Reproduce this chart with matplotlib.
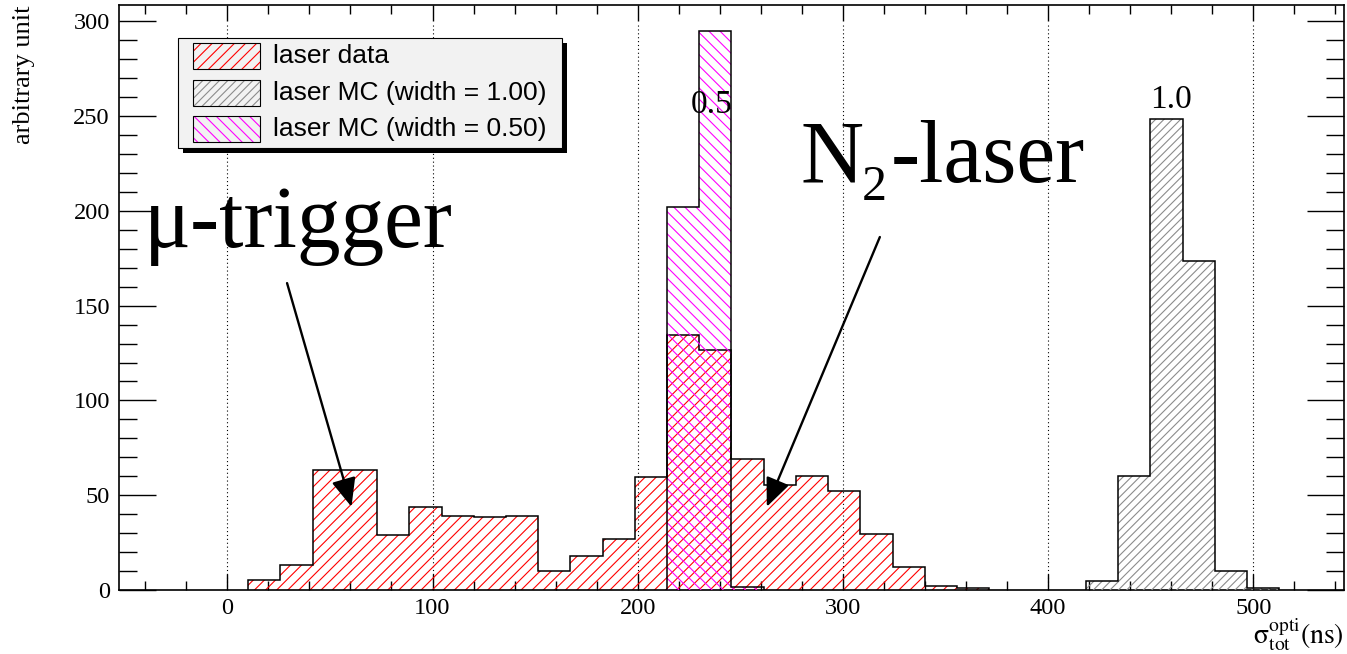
import numpy as np
import matplotlib
matplotlib.use("Agg")
import matplotlib.pyplot as plt
from matplotlib.patches import Rectangle

# ---------------- data ----------------
bin_edges = [10.2, 25.9, 41.6, 57.3, 73.0, 88.7, 104.4, 120.1, 135.8, 151.5,
             167.2, 182.9, 198.6, 214.3, 230.0, 245.7, 261.4, 277.1, 292.8, 308.5,
             324.2, 339.9, 355.6, 371.3, 387.0, 402.7, 418.4, 434.1, 449.8, 465.5,
             481.2, 496.9, 512.6]

# laser data: bins 0..22
data_start = 0
data_counts = [5.3, 13.3, 63.3, 63.3, 29.0, 44.0, 39.0, 38.5, 39.0, 10.0,
               18.1, 26.9, 59.6, 134.5, 126.6, 69.3, 55.6, 60.1, 52.4, 29.5,
               12.1, 2.0, 1.2]

# laser MC (width = 1.00): bins 26..31
mc100_start = 26
mc100_counts = [4.7, 60.1, 248.5, 173.5, 10.0, 1.0]

# laser MC (width = 0.50): bins 13..15
mc050_start = 13
mc050_counts = [202.0, 295.0, 1.5]

legend_labels = ["laser data", "laser MC (width = 1.00)", "laser MC (width = 0.50)"]
series_colors = ["#ff0000", "#8c8c8c", "#ff00ff"]
series_hatch = ["///", "////", "\\\\\\"]

x_major = [0, 100, 200, 300, 400, 500]

# ---------------- figure ----------------
W, H = 1347, 654
plt.rcParams['font.family'] = ['Liberation Serif', 'DejaVu Serif']
plt.rcParams['mathtext.fontset'] = 'stix'
plt.rcParams['hatch.linewidth'] = 0.8

fig = plt.figure(figsize=(W / 100, H / 100), dpi=100)
fig.patch.set_facecolor('white')


def fx(px):
    return px / W


def fy(py):
    return 1 - py / H


ax = fig.add_axes([fx(119), fy(590), (1344 - 119) / W, (590 - 5) / H])
ax.set_xlim(-52.8, 544.2)
ax.set_ylim(0, 308.6)

# grid (vertical dotted lines)
ax.vlines(x_major, 0, 299, colors='black', linestyles=(0, (1, 2.5)), linewidth=0.8, zorder=1)


def draw_hist(start, counts, color, hatch, z):
    edges = bin_edges[start:start + len(counts) + 1]
    ax.stairs(counts, edges, fill=True, facecolor='none', edgecolor=color,
              hatch=hatch, linewidth=0, zorder=z)
    ax.stairs(counts, edges, baseline=0, color='black', linewidth=1.1, zorder=z + 0.5)


draw_hist(data_start, data_counts, series_colors[0], series_hatch[0], 2)
draw_hist(mc100_start, mc100_counts, series_colors[1], series_hatch[1], 3)
draw_hist(mc050_start, mc050_counts, series_colors[2], series_hatch[2], 4)

# ticks
ax.set_xticks(x_major)
ax.set_xticks(np.arange(-40, 541, 20), minor=True)
ax.set_yticks(np.arange(0, 301, 50))
ax.set_yticks(np.arange(0, 301, 10), minor=True)
ax.tick_params(axis='both', which='both', direction='in', top=True, right=True,
               width=1.0, labelsize=17.6)
ax.tick_params(axis='x', which='major', length=11.5, pad=6)
ax.tick_params(axis='x', which='minor', length=6.5)
ax.tick_params(axis='y', which='major', length=26.5, pad=6.5)
ax.tick_params(axis='y', which='minor', length=13)
for s in ax.spines.values():
    s.set_linewidth(1.2)

# axis titles
ax.set_ylabel('arbitrary unit', fontsize=19)
ax.yaxis.label.set(rotation_mode='default', ha='center', va='top')
ax.yaxis.set_label_coords((24 - 119) / (1344 - 119), 1.0)

ax.set_xlabel(r'$\mathrm{\sigma}_{\mathrm{tot}}^{\mathrm{opti}}\mathrm{(ns)}$', fontsize=20)
ax.xaxis.label.set(ha='right', va='baseline')
ax.xaxis.set_label_coords(1.0, (590 - 644) / 585)

# peak labels
ax.text(236.2, 255.8, '0.5', fontsize=24, ha='center', va='center', zorder=6)
ax.text(459.8, 258.5, '1.0', fontsize=24, ha='center', va='center', zorder=6)

# big annotations
ax.text(-40.6, 181.1, 'μ-trigger', fontsize=63, va='baseline', ha='left', zorder=6)
ax.text(279.3, 215.4, 'N', fontsize=63, va='baseline', ha='left', zorder=6)
ax.text(309.2, 205.7, '2', fontsize=36, va='baseline', ha='left', zorder=6)
ax.text(323.4, 215.4, '-laser', fontsize=63, va='baseline', ha='left', zorder=6)

arrow_kw = dict(arrowstyle='-|>,head_length=0.7,head_width=0.3', color='black', lw=1.7,
                mutation_scale=25, shrinkA=0, shrinkB=0)
ax.annotate('', xy=(60.5, 43.9), xytext=(29.1, 161.9), arrowprops=arrow_kw, zorder=6)
ax.annotate('', xy=(262.9, 43.9), xytext=(318.0, 186.2), arrowprops=arrow_kw, zorder=6)

# ---------------- legend (ROOT style box with shadow) ----------------
lx0, lx1, ly0, ly1 = 178.3, 561.7, 38.3, 148.3
fig.add_artist(Rectangle((fx(lx0 + 5), fy(ly1 + 5)), (lx1 - lx0) / W, (ly1 - ly0) / H,
                         transform=fig.transFigure, facecolor='black', edgecolor='none', zorder=10))
fig.add_artist(Rectangle((fx(lx0), fy(ly1)), (lx1 - lx0) / W, (ly1 - ly0) / H,
                         transform=fig.transFigure, facecolor='#f2f2f2', edgecolor='black',
                         linewidth=0.8, zorder=11))
row_y = [56, 93, 129]
for lab, col, hat, cy in zip(legend_labels, series_colors, series_hatch, row_y):
    fig.add_artist(Rectangle((fx(193), fy(cy + 13)), 67 / W, 26 / H, transform=fig.transFigure,
                             facecolor='none', edgecolor=col, hatch=hat, linewidth=0, zorder=12))
    fig.add_artist(Rectangle((fx(193), fy(cy + 13)), 67 / W, 26 / H, transform=fig.transFigure,
                             facecolor='none', edgecolor='black', linewidth=0.8, zorder=13))
    fig.text(fx(273), fy(cy), lab, fontsize=19, va='center', ha='left',
             family=['Liberation Sans', 'DejaVu Sans'], zorder=14)

fig.savefig('out.png', dpi=100)
